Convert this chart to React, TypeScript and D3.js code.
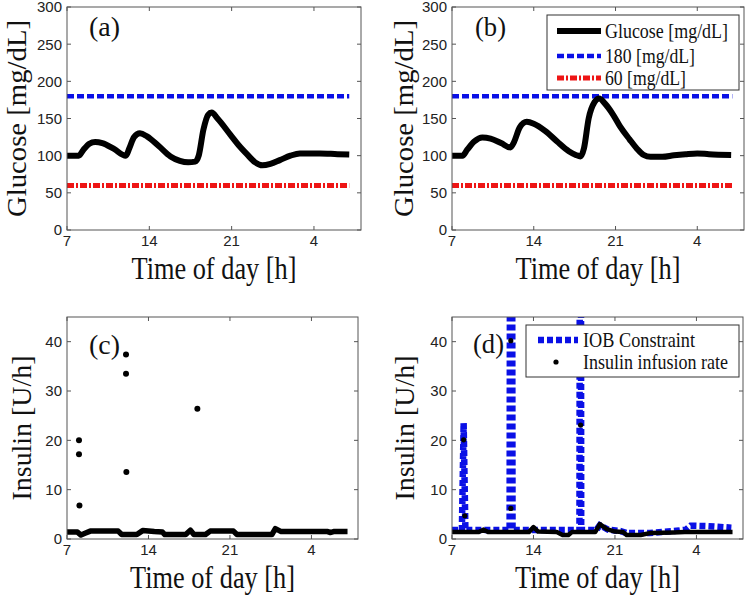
import React from "react";
import * as d3 from "d3";

// ---------- data ----------
const xTickValues = [7, 14, 21, 28];
const xTickLabels = ["7", "14", "21", "4"];
const glucoseTicks = [0, 50, 100, 150, 200, 250, 300];
const insulinTicks = [0, 10, 20, 30, 40];

const upperLimit = 180;
const lowerLimit = 60;

// panel (a) glucose [hour, mg/dL]
const glucoseA: [number, number][] = [
  [7, 100], [8.0, 100], [8.4, 108], [8.9, 116], [9.4, 118.5], [10.0, 117], [11.0, 109],
  [12.0, 100], [12.3, 110], [12.7, 125], [13.2, 130], [13.8, 126], [14.8, 113], [15.8, 99],
  [16.6, 93], [17.3, 91], [17.9, 92], [18.2, 100], [18.6, 135], [19.0, 155], [19.3, 158],
  [19.8, 150], [20.9, 128], [21.6, 114], [22.3, 102], [23.0, 91], [23.6, 87], [24.3, 89],
  [25.1, 94], [26.0, 100], [26.8, 103], [28.5, 103], [30.0, 102], [31.0, 101.5],
];

// panel (b) glucose
const glucoseB: [number, number][] = [
  [7, 100], [7.9, 100], [8.3, 108], [8.9, 119], [9.6, 124.5], [10.3, 123], [11.2, 117],
  [12.0, 111], [12.3, 118], [12.8, 138], [13.4, 145.5], [14.0, 143], [15.0, 133], [16.0, 119],
  [17.0, 106], [17.6, 101], [18.0, 99], [18.3, 110], [18.7, 150], [19.2, 172], [19.6, 177],
  [20.1, 170], [20.8, 155], [21.4, 139], [22.2, 122], [22.8, 110], [23.4, 101], [24.0, 98.5],
  [25.0, 98.5], [26.0, 100.5], [27.0, 102], [28.0, 103], [29.0, 102], [30.9, 101],
];

// panel (c) insulin: basal trace and bolus points
const basalC: [number, number][] = [
  [7, 1.4], [7.9, 1.4], [8.2, 0.8], [8.6, 1.2], [9.0, 1.6], [11.4, 1.6], [11.7, 0.9],
  [13.0, 0.9], [13.5, 1.7], [14.5, 1.5], [15.2, 1.4], [15.4, 0.9], [17.2, 0.9], [17.6, 1.8],
  [17.9, 0.9], [18.9, 0.9], [19.3, 1.6], [21.3, 1.6], [21.6, 0.9], [24.6, 0.9], [24.9, 2.1],
  [25.4, 1.5], [29.4, 1.5], [29.6, 1.3], [29.9, 1.5], [31.1, 1.5],
];
const bolusC: [number, number][] = [
  [8.03, 20.0], [8.03, 17.2], [8.07, 6.8], [12.07, 37.4], [12.07, 33.5], [12.1, 13.6], [18.2, 26.4],
];

// panel (d) IOB constraint and insulin infusion rate
const iobD: [number, number][] = [
  [7, 1.8], [7.85, 1.8], [8.0, 23.5], [8.15, 1.8], [11.95, 1.8], [11.98, 60],
  [12.17, 60], [12.2, 1.8], [17.95, 1.8], [17.98, 60], [18.08, 60], [18.1, 1.8], [19.4, 1.8],
  [19.7, 2.8], [20.4, 1.9], [21.5, 1.6], [22.0, 1.2], [24.0, 1.2], [26.5, 1.7], [27.1, 1.9],
  [27.5, 2.7], [29.0, 2.6], [31.0, 2.3],
];
const infusionD: [number, number][] = [
  [7, 1.4], [9.3, 1.4], [9.7, 1.9], [10.1, 1.4], [13.6, 1.4], [14.0, 2.4], [14.4, 1.5],
  [16.0, 1.4], [16.5, 0.8], [17.0, 0.8], [17.3, 1.4], [19.3, 1.4], [19.7, 3.0], [20.3, 2.0],
  [21.0, 1.5], [21.7, 1.4], [22.0, 0.8], [23.2, 0.8], [24.0, 1.2], [26.0, 1.3], [27.0, 1.4],
  [31.1, 1.4],
];
const infusionBolusD: [number, number][] = [
  [8.0, 20.1], [8.1, 4.7], [12.05, 40.2], [12.05, 6.2], [18.05, 23.1],
];

// ---------- styling ----------
const BLUE = "#0a10e6";
const RED = "#ee1515";
const AXIS = "#555";
const SERIF = "'Liberation Serif', 'Times New Roman', serif";
const SANS = "'Liberation Sans', Arial, sans-serif";

type Box = { left: number; right: number; top: number; bottom: number };

function Axes({
  box, y, yTicks, yLabel, yLabelX, yLabelLen, tag, tagX, tagY, clipId, children,
}: {
  box: Box; y: d3.ScaleLinear<number, number>; yTicks: number[]; yLabel: string;
  yLabelX: number; yLabelLen: number; tag: string; tagX: number; tagY: number; clipId: string;
  children?: React.ReactNode;
}) {
  const x = d3.scaleLinear().domain([7, 32]).range([box.left, box.right]);
  const cy = (box.top + box.bottom) / 2;
  const cx = (box.left + box.right) / 2;
  return (
    <g>
      <defs>
        <clipPath id={clipId}>
          <rect x={box.left} y={box.top} width={box.right - box.left} height={box.bottom - box.top} />
        </clipPath>
      </defs>
      <rect x={box.left} y={box.top} width={box.right - box.left} height={box.bottom - box.top} fill="#fff" />
      {xTickValues.map((v, i) => (
        <g key={"x" + v}>
          <line x1={x(v)} x2={x(v)} y1={box.bottom} y2={box.bottom - 4} stroke={AXIS} />
          <line x1={x(v)} x2={x(v)} y1={box.top} y2={box.top + 4} stroke={AXIS} />
          <text x={x(v)} y={box.bottom + 16} textAnchor="middle" fontFamily={SANS} fontSize={15} fill="#222">
            {xTickLabels[i]}
          </text>
        </g>
      ))}
      {yTicks.map((v) => (
        <g key={"y" + v}>
          <line x1={box.left} x2={box.left + 4} y1={y(v)} y2={y(v)} stroke={AXIS} />
          <line x1={box.right} x2={box.right - 4} y1={y(v)} y2={y(v)} stroke={AXIS} />
          <text x={box.left - 5} y={y(v)} dy="0.36em" textAnchor="end" fontFamily={SANS} fontSize={15} fill="#222">
            {v}
          </text>
        </g>
      ))}
      <g clipPath={`url(#${clipId})`}>{children}</g>
      <rect x={box.left} y={box.top} width={box.right - box.left} height={box.bottom - box.top}
        fill="none" stroke={AXIS} strokeWidth={1} />
      <text x={cx} y={box.bottom + 49} textAnchor="middle" fontFamily={SERIF} fontSize={31}
        textLength={165} lengthAdjust="spacingAndGlyphs" fill="#111">
        Time of day [h]
      </text>
      <text transform={`translate(${yLabelX},${cy}) rotate(-90)`} textAnchor="middle" fontFamily={SERIF}
        fontSize={27} textLength={yLabelLen} lengthAdjust="spacingAndGlyphs" fill="#111">
        {yLabel}
      </text>
      <text x={tagX} y={tagY} fontFamily={SERIF} fontSize={28} textLength={31}
        lengthAdjust="spacingAndGlyphs" fill="#111">
        {tag}
      </text>
    </g>
  );
}

export default function App() {
  const boxA: Box = { left: 67, right: 361, top: 7, bottom: 230 };
  const boxB: Box = { left: 452, right: 744, top: 7, bottom: 230 };
  const boxC: Box = { left: 67, right: 358, top: 317, bottom: 539 };
  const boxD: Box = { left: 452, right: 743, top: 317, bottom: 539 };

  const mk = (b: Box, ymax: number) => ({
    x: d3.scaleLinear().domain([7, 32]).range([b.left, b.right]),
    y: d3.scaleLinear().domain([0, ymax]).range([b.bottom, b.top]),
  });
  const A = mk(boxA, 300);
  const B = mk(boxB, 300);
  const C = mk(boxC, 45);
  const D = mk(boxD, 45);

  const smooth = (s: { x: any; y: any }) =>
    d3.line<[number, number]>().x((d) => s.x(d[0])).y((d) => s.y(d[1])).curve(d3.curveMonotoneX);
  const straight = (s: { x: any; y: any }) =>
    d3.line<[number, number]>().x((d) => s.x(d[0])).y((d) => s.y(d[1]));

  const limits = (s: { x: any; y: any }) => (
    <>
      <line x1={s.x(7)} x2={s.x(31)} y1={s.y(upperLimit)} y2={s.y(upperLimit)} stroke={BLUE}
        strokeWidth={4.5} strokeDasharray="7,3" />
      <line x1={s.x(7)} x2={s.x(31)} y1={s.y(lowerLimit)} y2={s.y(lowerLimit)} stroke={RED}
        strokeWidth={5} strokeDasharray="7,2,2,2" />
    </>
  );

  return (
    <svg width={746} height={597} style={{ position: "absolute", left: 0, top: 0, background: "#fff" }}>
      <rect width={746} height={597} fill="#fff" />
      <Axes box={boxA} y={A.y} yTicks={glucoseTicks} yLabel="Glucose [mg/dL]" yLabelX={26} yLabelLen={197}
        tag="(a)" tagX={89} tagY={36} clipId="ca">
        {limits(A)}
        <path d={smooth(A)(glucoseA) || ""} fill="none" stroke="#000" strokeWidth={6} strokeLinejoin="round" />
      </Axes>
      <Axes box={boxB} y={B.y} yTicks={glucoseTicks} yLabel="Glucose [mg/dL]" yLabelX={413} yLabelLen={197}
        tag="(b)" tagX={475} tagY={36} clipId="cb">
        {limits(B)}
        <path d={smooth(B)(glucoseB) || ""} fill="none" stroke="#000" strokeWidth={6} strokeLinejoin="round" />
      </Axes>
      <g>
        <rect x={547} y={15} width={192} height={75} fill="#fff" stroke="#333" strokeWidth={1} />
        <line x1={557} x2={601} y1={31} y2={31} stroke="#000" strokeWidth={6} />
        <line x1={557} x2={601} y1={56} y2={56} stroke={BLUE} strokeWidth={4.5} strokeDasharray="7,3" />
        <line x1={557} x2={601} y1={78} y2={78} stroke={RED} strokeWidth={5} strokeDasharray="7,2,2,2" />
        <text x={605} y={38} fontFamily={SERIF} fontSize={21} textLength={123} lengthAdjust="spacingAndGlyphs" fill="#111">Glucose [mg/dL]</text>
        <text x={605} y={63} fontFamily={SERIF} fontSize={21} textLength={90} lengthAdjust="spacingAndGlyphs" fill="#111">180 [mg/dL]</text>
        <text x={605} y={85} fontFamily={SERIF} fontSize={21} textLength={81} lengthAdjust="spacingAndGlyphs" fill="#111">60 [mg/dL]</text>
      </g>
      <Axes box={boxC} y={C.y} yTicks={insulinTicks} yLabel="Insulin [U/h]" yLabelX={31} yLabelLen={145}
        tag="(c)" tagX={89} tagY={354} clipId="cc">
        <path d={straight(C)(basalC) || ""} fill="none" stroke="#000" strokeWidth={5.5} strokeLinejoin="round" />
        {bolusC.map((d, i) => (
          <circle key={i} cx={C.x(d[0])} cy={C.y(d[1])} r={3} fill="#000" />
        ))}
      </Axes>
      <Axes box={boxD} y={D.y} yTicks={insulinTicks} yLabel="Insulin [U/h]" yLabelX={414} yLabelLen={145}
        tag="(d)" tagX={473} tagY={353} clipId="cd">
        <path d={straight(D)(iobD) || ""} fill="none" stroke={BLUE} strokeWidth={6.5} strokeDasharray="6,3" />
        <path d={straight(D)(infusionD) || ""} fill="none" stroke="#000" strokeWidth={4.5} strokeLinejoin="round" />
        {infusionBolusD.map((d, i) => (
          <circle key={i} cx={D.x(d[0])} cy={D.y(d[1])} r={2.6} fill="#000" />
        ))}
      </Axes>
      <g>
        <rect x={526} y={325} width={213} height={52} fill="#fff" stroke="#333" strokeWidth={1} />
        <line x1={538} x2={578} y1={340} y2={340} stroke={BLUE} strokeWidth={6.5} strokeDasharray="6,3" />
        <circle cx={556} cy={362} r={2.6} fill="#000" />
        <text x={583} y={347} fontFamily={SERIF} fontSize={21} textLength={112} lengthAdjust="spacingAndGlyphs" fill="#111">IOB Constraint</text>
        <text x={583} y={369} fontFamily={SERIF} fontSize={21} textLength={145} lengthAdjust="spacingAndGlyphs" fill="#111">Insulin infusion rate</text>
      </g>
    </svg>
  );
}
